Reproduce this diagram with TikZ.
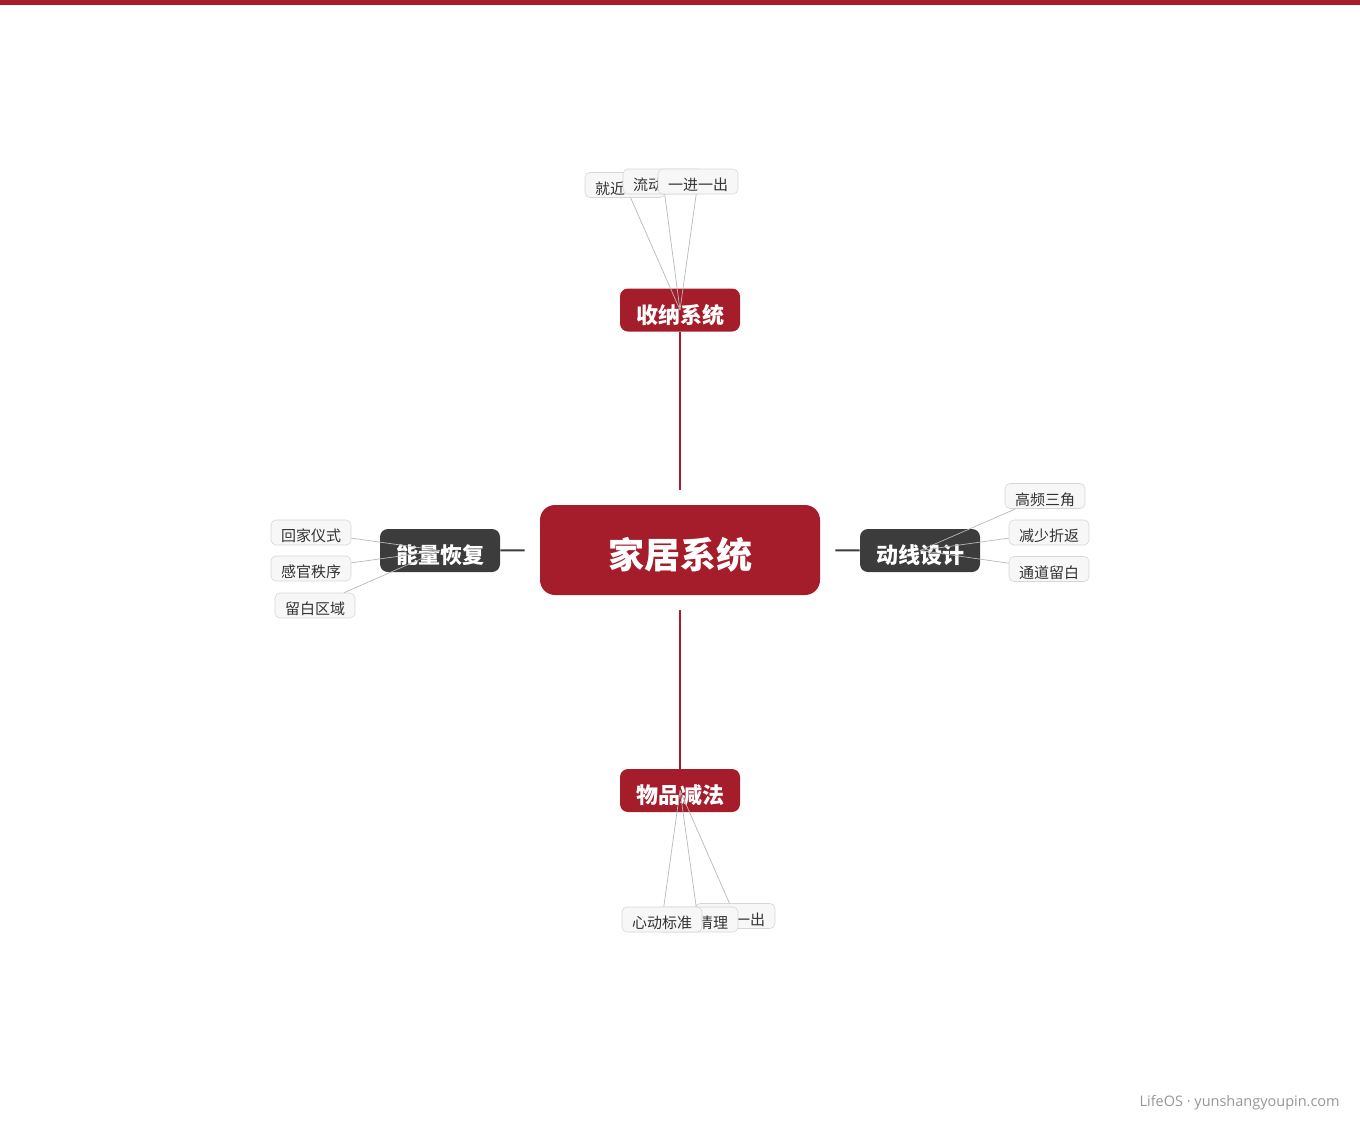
\documentclass[tikz,border=0pt]{standalone}
\usepackage{fontspec}
\usepackage{tikz}
\setmainfont{Noto Sans CJK SC}
\newfontfamily\footfont{Open Sans}
\definecolor{node_red}{RGB}{165,28,43}
\definecolor{node_dark}{RGB}{60,60,60}
\definecolor{leaf_fill}{RGB}{247,247,247}
\definecolor{leaf_edge}{RGB}{215,215,215}
\definecolor{leaf_text}{RGB}{51,51,51}
\definecolor{edge_gray}{RGB}{185,185,185}
\definecolor{foot_gray}{RGB}{150,150,150}

\begin{document}
\begin{tikzpicture}[x=1pt,y=-1pt,semithick]
    \tikzstyle{root}=[rectangle, rounded corners=15pt, fill=node_red, text=white, minimum width=280pt, minimum height=90pt, text height=37pt, text depth=0pt, font=\fontsize{36}{40}\selectfont\bfseries]
    \tikzstyle{branch}=[rectangle, rounded corners=8pt, minimum width=120pt, minimum height=43pt, text=white, text height=26.5pt, text depth=0pt, font=\fontsize{22}{26}\selectfont\bfseries]
    \tikzstyle{branchred}=[style=branch, fill=node_red]
    \tikzstyle{branchdk}=[style=branch, fill=node_dark]
    \tikzstyle{leaf}=[rectangle, rounded corners=5pt, draw=leaf_edge, fill=leaf_fill, text=leaf_text, text width=60pt, inner xsep=10pt, inner ysep=0pt, minimum height=25pt, text height=18.5pt, text depth=0pt, align=left, font=\fontsize{15}{17}\selectfont]
    \tikzstyle{leafr}=[style=leaf, align=right]
    \tikzstyle{trunkred}=[-, line width=2pt, draw=node_red, shorten <=15pt]
    \tikzstyle{trunkdk}=[-, line width=2pt, draw=node_dark, shorten <=15pt]
    \tikzstyle{twig}=[-, line width=0.7pt, draw=edge_gray]

    \useasboundingbox (0,0) rectangle (1360,1120);
    \fill[node_red] (0,0) rectangle (1360,4.5);

    \node[root] (C) at (680,550) {家居系统};

    \node[branchred] (S) at (680,310) {收纳系统};
    \node[branchred] (W) at (680,790.5) {物品减法};
    \node[branchdk]  (N) at (440,550.5) {能量恢复};
    \node[branchdk]  (D) at (920,550.5) {动线设计};

    \path
     (C) edge[trunkred] (S)
     (C) edge[trunkred] (W)
     (C) edge[trunkdk] (N)
     (C) edge[trunkdk] (D);

    % top
    \node[leaf] (S1) at (625,185)   {就近};
    \node[leaf] (S2) at (663,181.5) {流动};
    \node[leaf] (S3) at (698,181.5) {一进一出};
    % bottom
    \node[leaf]  (W3) at (735,916)   {一进一出};
    \node[leafr] (W2) at (698,919.5) {清理};
    \node[leaf]  (W1) at (662,919.5) {心动标准};
    % left
    \node[leaf] (N1) at (311,532.5) {回家仪式};
    \node[leaf] (N2) at (311,568.5) {感官秩序};
    \node[leaf] (N3) at (315,605.5) {留白区域};
    % right
    \node[leaf] (D1) at (1045,496)   {高频三角};
    \node[leaf] (D2) at (1049,532.5) {减少折返};
    \node[leaf] (D3) at (1049,569)   {通道留白};

    \path
     (S1) edge[twig] (S.center)
     (S2) edge[twig] (S.center)
     (S3) edge[twig] (S.center)
     (W1) edge[twig] (W.center)
     (W2) edge[twig] (W.center)
     (W3) edge[twig] (W.center)
     (N1) edge[twig] (N.center)
     (N2) edge[twig] (N.center)
     (N3) edge[twig] (N.center)
     (D1) edge[twig] (D.center)
     (D2) edge[twig] (D.center)
     (D3) edge[twig] (D.center);

    \node[anchor=east, text=foot_gray, inner sep=0pt, font=\footfont\fontsize{14.5}{16}\selectfont] (F) at (1340,1103) {LifeOS · yunshangyoupin.com};
\end{tikzpicture}
\end{document}
